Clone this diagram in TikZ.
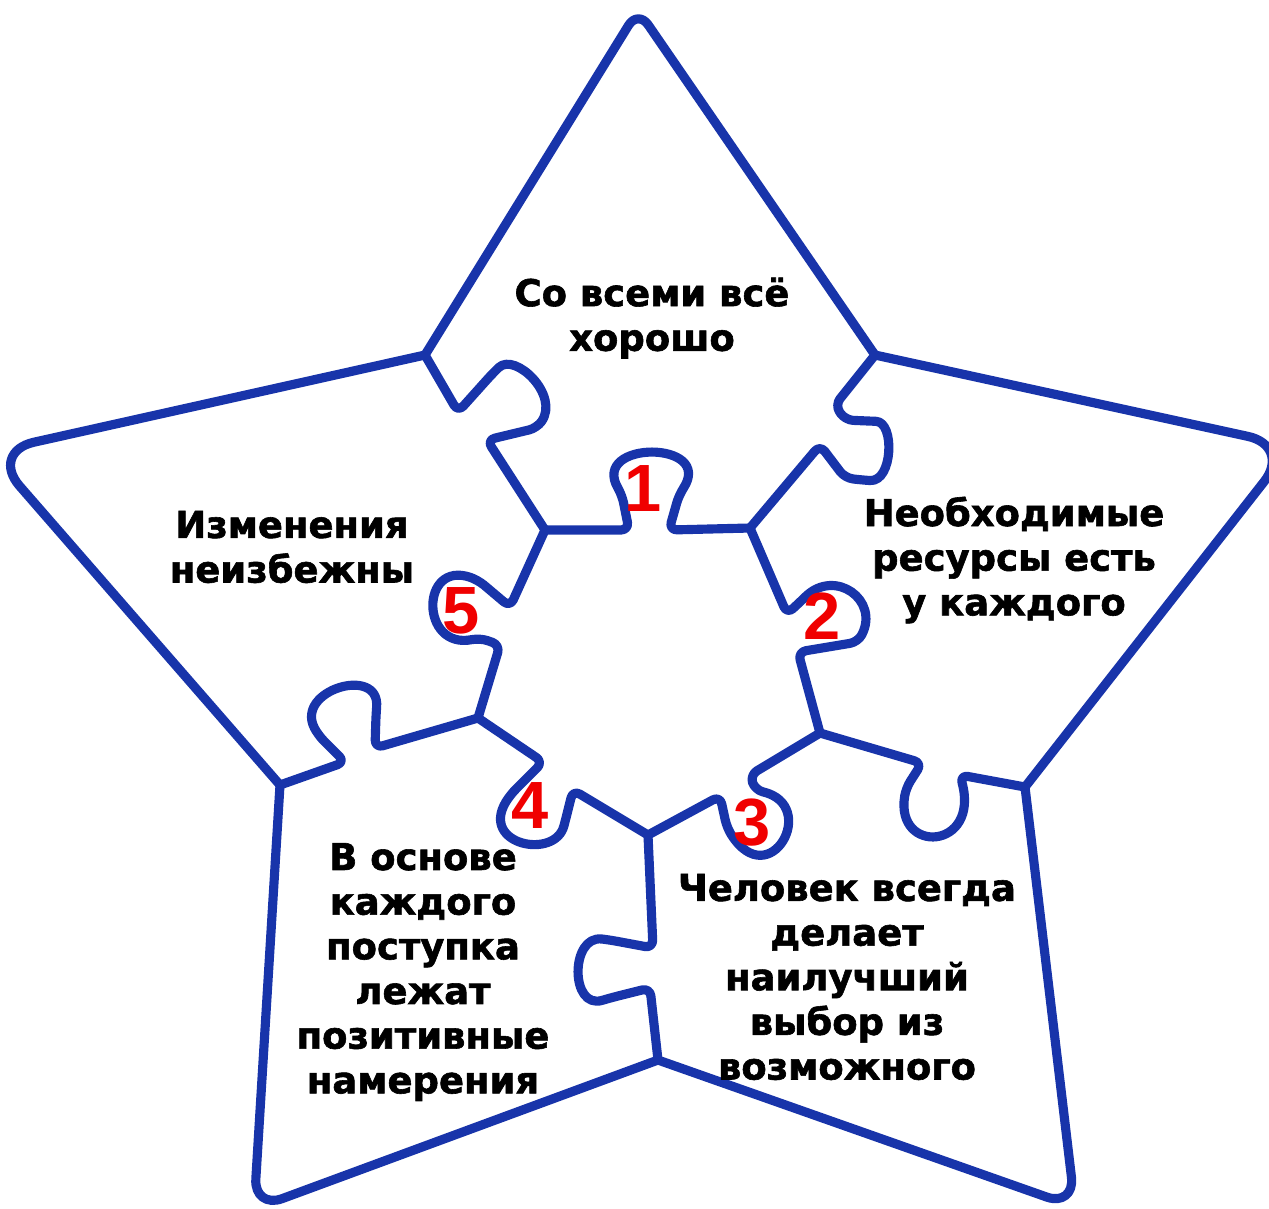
\documentclass[tikz,border=0pt]{standalone}
\usepackage{fontspec}
\setmainfont{DejaVu Sans}[BoldFeatures={FakeBold=1.6}]
\newfontfamily\numfont{Liberation Sans}
\usepackage{xcolor}
\usepackage{tikz}
\definecolor{puzzleblue}{RGB}{24,52,170}
\definecolor{numred}{RGB}{240,0,0}

\begin{document}
\begin{tikzpicture}[x=0.01cm, y=-0.01cm,
    seam/.style={draw=puzzleblue, line width=2.6pt, line cap=round, line join=round, rounded corners=0.08cm},
    txt/.style={font=\fontsize{10.5}{12.7}\selectfont\bfseries, align=center, inner sep=0pt},
    num/.style={font=\numfont\fontsize{19}{19}\selectfont\bfseries, text=numred, inner sep=0pt}]
    \useasboundingbox (0,0) rectangle (1269,1208);
    % outer tips
    \draw[seam, rounded corners=0.18cm] (425,355) -- (638,10) -- (875,355);
    \draw[seam, rounded corners=0.45cm] (875,355) -- (1292,446) -- (1025,787);
    \draw[seam, rounded corners=0.3cm] (1025,787) -- (1075,1207) -- (658,1060);
    \draw[seam, rounded corners=0.3cm] (658,1060) -- (254,1209) -- (280,785);
    \draw[seam, rounded corners=0.45cm] (280,785) -- (-10,452) -- (425,355);
    % seams between pieces
    \draw[seam] (425,355) -- (458,412) -- (493,373) .. controls (515,352) and (560,395) .. (537,428) -- (487,440) -- (545,530);
    \draw[seam] (875,355) -- (835,405) -- (845,420) -- (868,421) .. controls (895,422) and (893,482) .. (862,480) -- (845,478) -- (820,445) -- (750,528);
    \draw[seam] (820,733) -- (922,763) -- (906,788) .. controls (895,855) and (980,850) .. (960,775) -- (1025,787);
    \draw[seam] (648,835) -- (653,948) -- (610,940) .. controls (570,935) and (570,1010) .. (610,998) -- (650,988) -- (658,1060);
    \draw[seam] (280,785) -- (345,762) -- (318,735) .. controls (295,690) and (380,665) .. (376,715) -- (375,748) -- (478,718);
    % centre hole
    \draw[seam] (545,530) -- (629,530) -- (622,495) .. controls (590,440) and (715,440) .. (679,495) -- (669,530) -- (750,528);
    \draw[seam] (750,528) -- (787,614) -- (800,602) .. controls (835,568) and (880,600) .. (858,642) -- (798,652) -- (820,733);
    \draw[seam] (820,733) -- (750,775) -- (755,790) .. controls (820,805) and (770,895) .. (727,828) -- (720,796) -- (648,835);
    \draw[seam] (648,835) -- (573,790) -- (566,818) .. controls (555,860) and (480,845) .. (510,795) -- (543,762) -- (478,718);
    \draw[seam] (478,718) -- (500,645) -- (480,638) .. controls (420,650) and (420,560) .. (478,580) -- (510,607) -- (545,530);
    % texts
    \node[txt] (top) at (652,318) {Со всеми всё\\хорошо};
    \node[txt] (right) at (1014,560) {Необходимые\\ресурсы есть\\у каждого};
    \node[txt] (botright) at (847,977) {Человек всегда\\делает\\наилучший\\выбор из\\возможного};
    \node[txt] (botleft) at (423,972) {В основе\\каждого\\поступка\\лежат\\позитивные\\намерения};
    \node[txt] (left) at (292,547) {Изменения\\неизбежны};
    \node[num] (n1) at (643,489) {1};
    \node[num] (n2) at (822,616) {2};
    \node[num] (n3) at (752,823) {3};
    \node[num] (n4) at (530,805) {4};
    \node[num] (n5) at (461,611) {5};
\end{tikzpicture}
\end{document}
